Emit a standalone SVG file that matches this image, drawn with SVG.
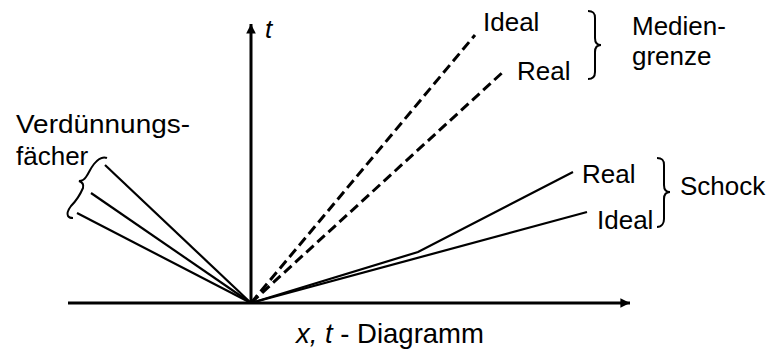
<svg xmlns="http://www.w3.org/2000/svg" width="772" height="351" viewBox="0 0 772 351">
<defs>
<marker id="arr" viewBox="0 0 10 10" refX="10" refY="5" markerWidth="3.2" markerHeight="3.2" orient="auto" markerUnits="strokeWidth">
<path d="M0,0 L10,5 L0,10 z" fill="#000"/>
</marker>
<style>
text{font-family:"Liberation Sans",Arial,sans-serif;font-size:26px;fill:#000}
.it{font-style:italic}
.ln{stroke:#000;stroke-width:2.2;fill:none}
.ds{stroke:#000;stroke-width:3;fill:none;stroke-dasharray:10 5}
.ax{stroke:#000;stroke-width:3;fill:none}
.br{stroke:#000;stroke-width:2;fill:none}
</style>
</defs>
<rect width="772" height="351" fill="#fff"/>
<g id="axes">
<line class="ax" x1="68" y1="303" x2="630" y2="303" marker-end="url(#arr)"/>
<line class="ax" x1="251" y1="303" x2="251" y2="24" marker-end="url(#arr)"/>
<text x="265" y="38" class="it">t</text>
<text x="296" y="343" style="font-size:27.5px"><tspan class="it">x, t</tspan> - Diagramm</text>
</g>
<g id="connectors">
<line class="ln" x1="251" y1="303" x2="105" y2="165"/>
<line class="ln" x1="251" y1="303" x2="91" y2="193"/>
<line class="ln" x1="251" y1="303" x2="77" y2="213"/>
<line class="ds" x1="251" y1="303" x2="475" y2="35"/>
<line class="ds" x1="251" y1="303" x2="503" y2="72"/>
<polyline class="ln" points="251,303 418,252 573,172"/>
<line class="ln" x1="251" y1="303" x2="587" y2="212"/>
</g>
<g id="verduennungsfaecher">
<text x="16" y="133" textLength="174" lengthAdjust="spacingAndGlyphs">Verdünnungs-</text>
<text x="16" y="165">fächer</text>
<path class="br" d="M107,158 C102,156 98,159 94,164 C90,169 89,173 86,177 C84,180 82,181 79,181 C82,182 84,184 83,188 C80,195 76,201 71,206 C68,210 67,214 68,216 C69,218 71,218 73,218"/>
</g>
<g id="mediengrenze">
<text x="483" y="31">Ideal</text>
<text x="517" y="80">Real</text>
<path class="br" d="M588,11 C594,11 595,14 595,18 L595,38 C595,42 597,45 601,45 C597,45 595,48 595,52 L595,72 C595,76 593,79 588,79"/>
<text x="632" y="35">Medien-</text>
<text x="632" y="65">grenze</text>
</g>
<g id="schock">
<text x="582" y="183">Real</text>
<text x="597" y="229">Ideal</text>
<path class="br" d="M657,158 C663,158 664,161 664,165 L664,185 C664,189 666,192 670,192 C666,192 664,195 664,199 L664,219 C664,223 662,227 657,227"/>
<text x="680" y="195">Schock</text>
</g>
</svg>
